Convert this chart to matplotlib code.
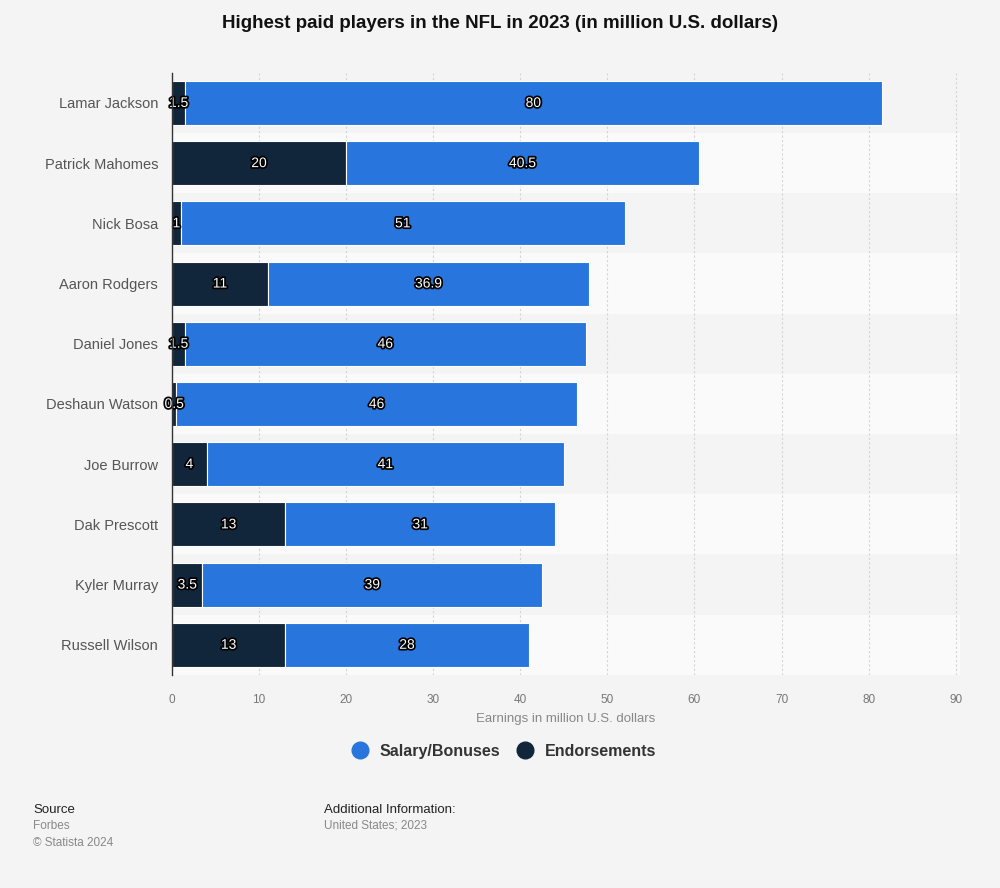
import matplotlib
matplotlib.use("Agg")
import matplotlib.pyplot as plt
import matplotlib.patheffects as pe
from matplotlib.lines import Line2D

players = ["Lamar Jackson", "Patrick Mahomes", "Nick Bosa", "Aaron Rodgers", "Daniel Jones",
           "Deshaun Watson", "Joe Burrow", "Dak Prescott", "Kyler Murray", "Russell Wilson"]
endorsements = [1.5, 20, 1, 11, 1.5, 0.5, 4, 13, 3.5, 13]
salary = [80, 40.5, 51, 36.9, 46, 46, 41, 31, 39, 28]
xticks = [0, 10, 20, 30, 40, 50, 60, 70, 80, 90]

BG = "#f4f4f4"
BLUE = "#2876dd"
NAVY = "#12263b"

plt.rcParams['font.family'] = ['Liberation Sans', 'DejaVu Sans']
fig = plt.figure(figsize=(10, 8.88), dpi=100, facecolor=BG)
ax = fig.add_axes([0.172, 0.24, 0.788, 0.678])
ax.set_facecolor(BG)

n = len(players)
ys = list(range(n))
for i in ys:
    if i % 2 == 1:
        ax.axhspan(i - 0.5, i + 0.5, color="#fafafa", zorder=0, lw=0)

ax.set_xlim(0, 90.5)
ax.set_ylim(n - 0.5, -0.5)
for t in xticks[1:]:
    ax.axvline(t, color="#d4d4d4", lw=0.8, ls=(0, (2, 2)), zorder=1)

h = 0.73
ax.barh(ys, endorsements, height=h, color=NAVY, edgecolor="white", linewidth=0.8, zorder=3)
ax.barh(ys, salary, left=endorsements, height=h, color=BLUE, edgecolor="white", linewidth=0.8, zorder=3)

stroke = [pe.withStroke(linewidth=2.5, foreground="black")]
def fmt(v):
    return ("%g" % v)
for i in ys:
    e, s = endorsements[i], salary[i]
    ax.text(e / 2, i, fmt(e), ha="center", va="center", color="white", fontsize=10,
            path_effects=stroke, zorder=5)
    ax.text(e + s / 2, i, fmt(s), ha="center", va="center", color="white", fontsize=10,
            path_effects=stroke, zorder=5)

ax.set_yticks(ys)
ax.set_yticklabels(players, fontsize=10.5, color="#555555")
ax.set_xticks(xticks)
ax.set_xticklabels([str(t) for t in xticks], fontsize=8.5, color="#777777")
ax.tick_params(axis="both", length=0)
ax.tick_params(axis="y", pad=10)
ax.tick_params(axis="x", pad=14)
for s in ["top", "right", "bottom"]:
    ax.spines[s].set_visible(False)
ax.spines["left"].set_color("#333333")
ax.spines["left"].set_linewidth(1)
ax.spines["left"].set_zorder(6)

ax.set_xlabel("Earnings in million U.S. dollars", fontsize=9.5, color="#888888", labelpad=5)

fig.text(0.5, 0.974, "Highest paid players in the NFL in 2023 (in million U.S. dollars)",
         ha="center", va="center", fontsize=13.5, fontweight="bold", color="#111111")

handles = [Line2D([], [], marker="o", ls="", markersize=12, color=BLUE),
           Line2D([], [], marker="o", ls="", markersize=12, color=NAVY)]
fig.legend(handles, ["Salary/Bonuses", "Endorsements"], loc="center", bbox_to_anchor=(0.5, 0.154),
           ncol=2, frameon=False, prop={"size": 11.5, "weight": "bold"}, handletextpad=0.2,
           columnspacing=0.6, labelcolor="#333333")

fig.text(0.033, 0.088, "Source", fontsize=9.5, color="#222222", va="center")
fig.text(0.033, 0.070, "Forbes", fontsize=8.5, color="#888888", va="center")
fig.text(0.033, 0.051, "© Statista 2024", fontsize=8.5, color="#888888", va="center")
fig.text(0.324, 0.088, "Additional Information:", fontsize=9.5, color="#222222", va="center")
fig.text(0.324, 0.070, "United States; 2023", fontsize=8.5, color="#888888", va="center")

fig.savefig("out.png", dpi=100, facecolor=BG)
